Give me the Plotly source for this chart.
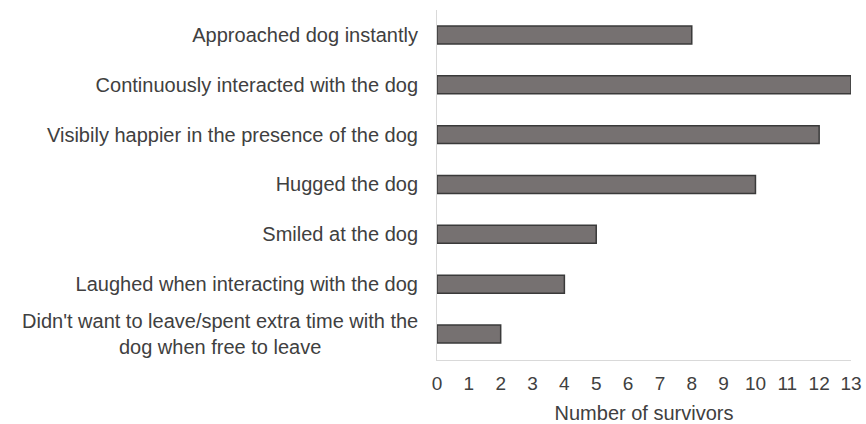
import plotly.graph_objects as go

categories = [
    "Approached dog instantly",
    "Continuously interacted with the dog",
    "Visibily happier in the presence of the dog",
    "Hugged the dog",
    "Smiled at the dog",
    "Laughed when interacting with the dog",
    "Didn't want to leave/spent extra time with the<br>dog when free to leave",
]
values = [8, 13, 12, 10, 5, 4, 2]
x_ticks = list(range(0, 14))
x_title = "Number of survivors"

FONT = "Liberation Sans, Arial, sans-serif"
TXT = "#404040"
FS = 20

ticktext = [c if "<br>" not in c else "" for c in categories]

fig = go.Figure(go.Bar(
    x=values, y=categories, orientation="h",
    marker=dict(color="#767171", line=dict(color="#3a3a3a", width=1.5)),
))

for c in categories:
    if "<br>" in c:
        fig.add_annotation(
            x=0, xref="paper", y=c, yref="y", text=c, showarrow=False,
            xanchor="right", align="center", xshift=-17,
            font=dict(family=FONT, size=FS, color=TXT),
        )

fig.update_layout(
    template="none",
    width=866, height=424,
    margin=dict(l=437, r=15, t=10, b=64),
    paper_bgcolor="white", plot_bgcolor="white",
    bargap=0.64, showlegend=False,
    font=dict(family=FONT, size=FS, color=TXT),
)
fig.update_xaxes(
    range=[0, 13], tickvals=x_ticks, showgrid=False, zeroline=False,
    automargin=False, ticklabeloverflow="allow",
    showline=True, linecolor="#d9d9d9", linewidth=1,
    ticks="outside", ticklen=6, tickcolor="rgba(0,0,0,0)",
    tickfont=dict(family=FONT, size=19, color=TXT),
    title=dict(text=x_title, font=dict(family=FONT, size=FS, color=TXT), standoff=13),
)
fig.update_yaxes(
    autorange="reversed", tickvals=categories, ticktext=ticktext,
    showgrid=False, zeroline=False, automargin=False,
    showline=True, linecolor="#d9d9d9", linewidth=1,
    ticks="outside", ticklen=14, tickcolor="rgba(0,0,0,0)",
    tickfont=dict(family=FONT, size=FS, color=TXT),
)

fig.write_html(
    "out.html",
    config={"displayModeBar": False},
    post_script="document.body.style.margin='0';document.body.style.overflow='hidden';",
)
